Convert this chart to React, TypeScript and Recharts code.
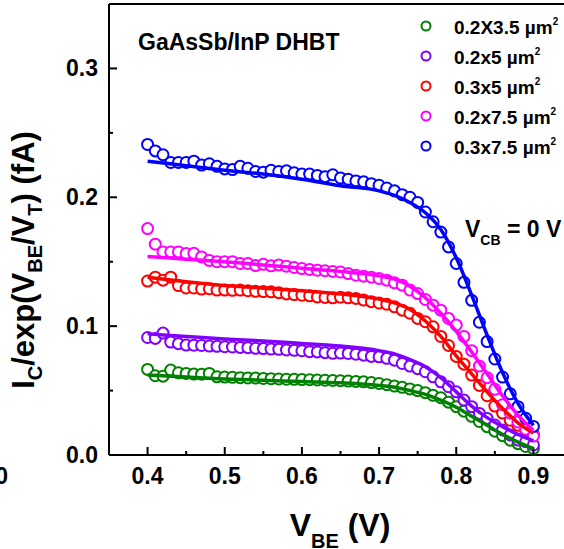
import React from 'react'
import { ComposedChart, Line, XAxis, YAxis, ReferenceLine } from 'recharts'

// measured points, V_BE from 0.40 to 0.90 V in 0.01 V steps
const vbe = [
  0.4, 0.41, 0.42, 0.43, 0.44, 0.45, 0.46, 0.47, 0.48, 0.49,
  0.5, 0.51, 0.52, 0.53, 0.54, 0.55, 0.56, 0.57, 0.58, 0.59,
  0.6, 0.61, 0.62, 0.63, 0.64, 0.65, 0.66, 0.67, 0.68, 0.69,
  0.7, 0.71, 0.72, 0.73, 0.74, 0.75, 0.76, 0.77, 0.78, 0.79,
  0.8, 0.81, 0.82, 0.83, 0.84, 0.85, 0.86, 0.87, 0.88, 0.89, 0.9,
]

const green = [
  0.0664, 0.0615, 0.0612, 0.0659, 0.0638, 0.0633, 0.0628, 0.0627, 0.0633, 0.0607,
  0.0605, 0.0603, 0.06, 0.0598, 0.0597, 0.0594, 0.0592, 0.059, 0.0588, 0.0587,
  0.0585, 0.0584, 0.0582, 0.058, 0.0578, 0.0576, 0.0574, 0.0571, 0.0568, 0.0562,
  0.0555, 0.0546, 0.0535, 0.0525, 0.0513, 0.05, 0.0484, 0.0463, 0.0445, 0.041,
  0.0375, 0.034, 0.03, 0.026, 0.022, 0.0185, 0.015, 0.0115, 0.0088, 0.0066, 0.005,
]
const purple = [
  0.0912, 0.0905, 0.0946, 0.0876, 0.0864, 0.0853, 0.0852, 0.085, 0.0845, 0.0843,
  0.084, 0.0838, 0.0835, 0.0833, 0.0828, 0.0826, 0.0822, 0.082, 0.0815, 0.0812,
  0.0809, 0.0802, 0.08, 0.0794, 0.0789, 0.0791, 0.0788, 0.0782, 0.0775, 0.0765,
  0.0762, 0.075, 0.0736, 0.071, 0.069, 0.067, 0.0646, 0.0607, 0.0568, 0.053,
  0.049, 0.0426, 0.0375, 0.0323, 0.0284, 0.0233, 0.0194, 0.0155, 0.0116, 0.0103, 0.0078,
]
const red = [
  0.135, 0.138, 0.1357, 0.138, 0.1315, 0.1296, 0.1296, 0.1288, 0.129, 0.128,
  0.128, 0.1278, 0.128, 0.1275, 0.127, 0.1268, 0.1266, 0.126, 0.125, 0.1245,
  0.124, 0.1235, 0.1227, 0.1223, 0.122, 0.1225, 0.122, 0.1215, 0.1202, 0.119,
  0.118, 0.117, 0.115, 0.1124, 0.11, 0.106, 0.1034, 0.0995, 0.092, 0.085,
  0.0765, 0.0705, 0.062, 0.054, 0.046, 0.038, 0.0325, 0.027, 0.023, 0.019, 0.016,
]
const magenta = [
  0.1757, 0.1636, 0.1576, 0.1576, 0.1576, 0.1563, 0.1565, 0.1537, 0.151, 0.15,
  0.15, 0.15, 0.1486, 0.1486, 0.147, 0.148, 0.1468, 0.1475, 0.1465, 0.1455,
  0.1447, 0.144, 0.1434, 0.143, 0.1425, 0.142, 0.1408, 0.1395, 0.1388, 0.138,
  0.137, 0.1357, 0.1336, 0.1318, 0.128, 0.1253, 0.1207, 0.1163, 0.1124, 0.106,
  0.1008, 0.092, 0.081, 0.069, 0.06, 0.051, 0.039, 0.0325, 0.0256, 0.02, 0.0147,
]
const blue = [
  0.241, 0.236, 0.233, 0.227, 0.227, 0.227, 0.228, 0.225, 0.226, 0.224,
  0.222, 0.2215, 0.224, 0.2225, 0.22, 0.2195, 0.221, 0.22, 0.2205, 0.219,
  0.218, 0.218, 0.217, 0.216, 0.2175, 0.215, 0.214, 0.2127, 0.212, 0.2106,
  0.2093, 0.2072, 0.205, 0.202, 0.2, 0.196, 0.1886, 0.181, 0.173, 0.1615,
  0.1486, 0.134, 0.12, 0.103, 0.088, 0.0745, 0.0605, 0.0475, 0.0375, 0.0285, 0.0222,
]

// model fits
const fitV = [0.4, 0.45, 0.5, 0.55, 0.6, 0.65, 0.7, 0.72, 0.74, 0.76, 0.78, 0.8, 0.82, 0.84, 0.86, 0.88, 0.9]
const greenFit = [0.062, 0.0605, 0.059, 0.058, 0.057, 0.056, 0.054, 0.0525, 0.05, 0.047, 0.0425, 0.037, 0.03, 0.023, 0.016, 0.01, 0.005]
const purpleFit = [0.094, 0.092, 0.09, 0.0885, 0.0865, 0.0845, 0.081, 0.0785, 0.074, 0.0685, 0.06, 0.049, 0.038, 0.029, 0.022, 0.016, 0.011]
const redFit = [0.138, 0.1345, 0.1315, 0.1295, 0.1275, 0.125, 0.121, 0.118, 0.113, 0.104, 0.092, 0.077, 0.063, 0.049, 0.036, 0.025, 0.017]
const magentaFit = [0.154, 0.152, 0.15, 0.1475, 0.145, 0.1425, 0.139, 0.1365, 0.131, 0.122, 0.11, 0.096, 0.08, 0.063, 0.046, 0.031, 0.019]
const blueFit = [0.228, 0.2245, 0.221, 0.218, 0.214, 0.209, 0.205, 0.2015, 0.196, 0.188, 0.175, 0.153, 0.124, 0.093, 0.064, 0.04, 0.023]

const labels = ['0.2X3.5', '0.2x5', '0.3x5', '0.2x7.5', '0.3x7.5']
const colors = ['#008000', '#8000ff', '#ff0000', '#ff00ff', '#0000ff']
const measured = [green, purple, red, magenta, blue]
const fits = [greenFit, purpleFit, redFit, magentaFit, blueFit]

const xTicks = [0.4, 0.45, 0.5, 0.55, 0.6, 0.65, 0.7, 0.75, 0.8, 0.85, 0.9]
const yTicks = [0, 0.05, 0.1, 0.15, 0.2, 0.25, 0.3]

const FONT = '"Liberation Sans", Arial, sans-serif'
const W = 572
const H = 549

const isMajor = (v: number) => Math.round(v * 100) % 10 === 0

const XTick = (props: any) => {
  const { x, y, payload } = props
  const major = isMajor(payload.value)
  return (
    <g>
      <line x1={x} x2={x} y1={y} y2={y - (major ? 8 : 4)} stroke="#000" strokeWidth={2} />
      {major && (
        <text x={x} y={y + 29} textAnchor="middle" fontFamily={FONT} fontWeight="bold" fontSize={23} fill="#000">
          {payload.value.toFixed(1)}
        </text>
      )}
    </g>
  )
}

const YTick = (props: any) => {
  const { x, y, payload } = props
  const major = isMajor(payload.value)
  return (
    <g>
      <line x1={x} x2={x + (major ? 8 : 4)} y1={y} y2={y} stroke="#000" strokeWidth={2} />
      {major && (
        <text x={x - 11} y={y + 8} textAnchor="end" fontFamily={FONT} fontWeight="bold" fontSize={23} fill="#000">
          {payload.value.toFixed(1)}
        </text>
      )}
    </g>
  )
}

// fit curves sit in a second chart on top so they are drawn over the open circles
function FitOverlay() {
  return (
    <ComposedChart width={W} height={H} margin={{ top: 4, right: 0, bottom: 94, left: 109 }}>
      <XAxis type="number" dataKey="x" domain={[0.35, 0.95]} hide allowDataOverflow />
      <YAxis type="number" dataKey="y" domain={[0, 0.35]} hide allowDataOverflow />
      {fits.map((vals, i) => (
        <Line
          key={'f' + i}
          data={vals.map((y, j) => ({ x: fitV[j], y }))}
          dataKey="y"
          type="monotone"
          stroke={colors[i]}
          strokeWidth={3.5}
          dot={false}
          activeDot={false}
          isAnimationActive={false}
        />
      ))}
    </ComposedChart>
  )
}

export default function App() {
  const txt = { fontFamily: FONT, fontWeight: 'bold' as const, fill: '#000' }
  return (
    <div style={{ position: 'fixed', left: 0, top: 0, width: 564, height: 549, overflow: 'hidden', background: '#fff' }}>
      <div style={{ position: 'absolute', left: 0, top: 0 }}>
        <ComposedChart width={W} height={H} margin={{ top: 4, right: 0, bottom: 0, left: 0 }}>
          <XAxis
            type="number"
            dataKey="x"
            domain={[0.35, 0.95]}
            ticks={xTicks}
            tick={<XTick />}
            tickSize={0}
            tickMargin={0}
            tickLine={false}
            axisLine={{ stroke: '#000', strokeWidth: 2 }}
            height={94}
            allowDataOverflow
          />
          <YAxis
            type="number"
            dataKey="y"
            domain={[0, 0.35]}
            ticks={yTicks}
            tick={<YTick />}
            tickSize={0}
            tickMargin={0}
            tickLine={false}
            axisLine={{ stroke: '#000', strokeWidth: 2 }}
            width={109}
            allowDataOverflow
          />
          <ReferenceLine y={0.35} stroke="#000" strokeWidth={2} />
          {measured.map((vals, i) => (
            <Line
              key={'m' + i}
              data={vals.map((y, j) => ({ x: vbe[j], y }))}
              dataKey="y"
              stroke="none"
              dot={{ r: 5.5, fill: '#fff', stroke: colors[i], strokeWidth: 2 }}
              activeDot={false}
              isAnimationActive={false}
            />
          ))}
        </ComposedChart>
      </div>
      <div style={{ position: 'absolute', left: 0, top: 0, pointerEvents: 'none' }}>
        <FitOverlay />
      </div>
      <svg width={564} height={549} style={{ position: 'absolute', left: 0, top: 0, pointerEvents: 'none' }}>
        <text x={138} y={50} fontSize={23} {...txt}>GaAsSb/InP DHBT</text>
        {labels.map((l, i) => (
          <g key={l}>
            <circle cx={426} cy={26 + i * 30} r={4.5} fill="#fff" stroke={colors[i]} strokeWidth={2} />
            <text x={454} y={34 + i * 30} fontSize={19} {...txt}>
              {l} µm<tspan dy={-9} fontSize={10}>2</tspan>
            </text>
          </g>
        ))}
        <text x={465} y={237} fontSize={23} {...txt}>
          V<tspan dy={8} fontSize={14}>CB</tspan><tspan dy={-8}> = 0 V</tspan>
        </text>
        <text x={8} y={484} textAnchor="end" fontSize={23} {...txt}>0</text>
        <text x={340} y={536} textAnchor="middle" fontSize={32} {...txt}>
          V<tspan dy={12} fontSize={20}>BE</tspan><tspan dy={-12}> (V)</tspan>
        </text>
        <text transform="translate(34,260) rotate(-90)" textAnchor="middle" fontSize={31} {...txt}>
          I<tspan dy={8} fontSize={20}>C</tspan>
          <tspan dy={-8}>/exp(V</tspan>
          <tspan dy={8} fontSize={20}>BE</tspan>
          <tspan dy={-8}>/V</tspan>
          <tspan dy={8} fontSize={20}>T</tspan>
          <tspan dy={-8}>) (fA)</tspan>
        </text>
      </svg>
    </div>
  )
}
